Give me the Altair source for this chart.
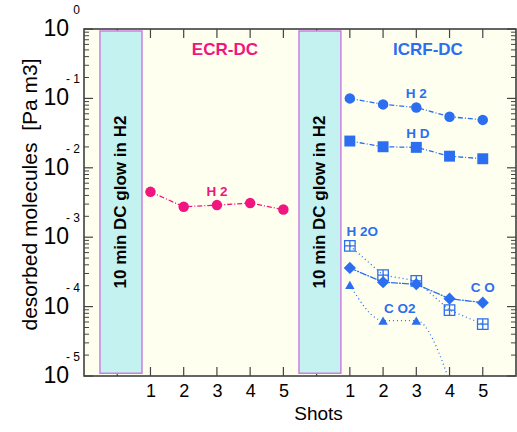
import altair as alt
import pandas as pd

# ---------------- data ----------------
shots = [1, 2, 3, 4, 5]
ecr_pos = [1, 2, 3, 4, 5]          # axis positions of ECR-DC shots
icrf_pos = [7, 8, 9, 10, 11]       # axis positions of ICRF-DC shots

ecr_h2 = [4.5e-3, 2.75e-3, 2.9e-3, 3.1e-3, 2.5e-3]
icrf_h2 = [0.100, 0.082, 0.074, 0.0545, 0.049]
icrf_hd = [0.0243, 0.0201, 0.0197, 0.0147, 0.0135]
icrf_h2o = [7.5e-4, 2.85e-4, 2.35e-4, 8.9e-5, 5.6e-5]
icrf_co = [3.6e-4, 2.25e-4, 2.1e-4, 1.3e-4, 1.14e-4]
icrf_co2 = [2.05e-4, 6.3e-5, 6.3e-5, 8.5e-6]   # 4th shot below axis range

glow_x0 = [-0.52, 5.47]
glow_x1 = [0.745, 6.73]
glow_top = [0.936, 0.936]
glow_bot = [1.1e-5, 1.1e-5]
glow_text = ["10 min DC glow in H2", "10 min DC glow in H2"]

label_text = ["H 2", "H 2", "H D", "H 2O", "C O", "C O2"]
label_x = [3.0, 9.0, 9.05, 7.37, 11.0, 8.5]
label_v = [4.5e-3, 0.116, 0.0307, 1.19e-3, 1.85e-4, 9.2e-5]
label_col = ["ecr", "icrf", "icrf", "icrf", "icrf", "icrf"]

panel_text = ["ECR-DC", "ICRF-DC"]
panel_x = [3.24, 9.35]
panel_v = [0.5, 0.5]
panel_col = ["ecr", "icrf"]

decades = [1, 1e-1, 1e-2, 1e-3, 1e-4, 1e-5]
exponents = ["0", "-  1", "-  2", "-  3", "-  4", "-  5"]
x_ticks = list(range(0, 12))

PINK = "#f0157f"
BLUE = "#2b6ff0"
FONT = "Liberation Sans"
colors = {"ecr": PINK, "icrf": BLUE}

rows = []
def add(name, xs, vs):
    for x, v in zip(xs, vs):
        rows.append({"series": name, "x": x, "v": v})
add("ECR_H2", ecr_pos, ecr_h2)
add("H2", icrf_pos, icrf_h2)
add("HD", icrf_pos, icrf_hd)
add("H2O", icrf_pos, icrf_h2o)
add("CO", icrf_pos, icrf_co)
add("CO2", icrf_pos[:4], icrf_co2)
df = pd.DataFrame(rows)

minor = [k * 10.0 ** d for d in range(-5, 0) for k in range(2, 10)]
df_major = pd.DataFrame({"v": decades, "e": exponents})
df_minor = pd.DataFrame({"v": minor})
df_xt = pd.DataFrame({"x": x_ticks})
df_glow = pd.DataFrame({"x0": glow_x0, "x1": glow_x1, "v0": glow_top, "v1": glow_bot, "t": glow_text})
df_glow["xm"] = (df_glow.x0 + df_glow.x1) / 2
df_glow["vm"] = (df_glow.v0 * df_glow.v1) ** 0.5
df_lab = pd.DataFrame({"t": label_text, "x": label_x, "v": label_v, "c": [colors[c] for c in label_col]})
df_pan = pd.DataFrame({"t": panel_text, "x": panel_x, "v": panel_v, "c": [colors[c] for c in panel_col]})

# ---------------- scales / axes ----------------
xscale = alt.Scale(domain=[-1, 12], nice=False, zero=False)
yscale = alt.Scale(type="log", domain=[1e-5, 1], nice=False)
xaxis = alt.Axis(values=[1, 2, 3, 4, 5, 7, 8, 9, 10, 11],
                 labelExpr="datum.value <= 5 ? datum.value : datum.value - 6",
                 ticks=False, domain=False, grid=False,
                 labelFontSize=18, labelFont=FONT, labelColor="black",
                 labelPadding=6, title="Shots", titleFont=FONT, titleFontSize=19,
                 titleFontWeight="normal", titleColor="black",
                 titleX=234, titleY=37, titleBaseline="middle", titleAlign="center")
yaxis = alt.Axis(labels=False, ticks=False, domain=False, grid=False,
                 title="desorbed molecules\u00a0\u00a0[Pa m3]", titleFont=FONT, titleFontSize=21,
                 titleFontWeight="normal", titleColor="black",
                 titleX=-54, titleY=165, titleBaseline="middle", titleAlign="center", titleAngle=-90)

def X(f="x"):
    return alt.X(f"{f}:Q", scale=xscale, axis=xaxis)
def Y(f="v"):
    return alt.Y(f"{f}:Q", scale=yscale, axis=yaxis)

TICK = "#444444"
layers = []
# ticks (inward)
layers.append(alt.Chart(df_xt).mark_rule(color=TICK, strokeWidth=1.2).encode(x=X(), y=alt.value(0), y2=alt.value(9)))
layers.append(alt.Chart(df_xt).mark_rule(color=TICK, strokeWidth=1.2).encode(x=X(), y=alt.value(347), y2=alt.value(338)))
layers.append(alt.Chart(df_major).mark_rule(color=TICK, strokeWidth=1.2).encode(y=Y(), x=alt.value(0), x2=alt.value(9)))
layers.append(alt.Chart(df_minor).mark_rule(color=TICK, strokeWidth=1).encode(y=Y(), x=alt.value(0), x2=alt.value(5)))
layers.append(alt.Chart(df_major).mark_rule(color=TICK, strokeWidth=1.2).encode(y=Y(), x=alt.value(432), x2=alt.value(423)))
layers.append(alt.Chart(df_minor).mark_rule(color=TICK, strokeWidth=1).encode(y=Y(), x=alt.value(432), x2=alt.value(427)))

# glow discharge bands
layers.append(alt.Chart(df_glow).mark_rect(fill="#c4f2f0", stroke="#cc80e0", strokeWidth=1.5).encode(
    x=X("x0"), x2="x1:Q", y=Y("v0"), y2="v1:Q"))
layers.append(alt.Chart(df_glow).mark_text(angle=270, fontSize=17, fontWeight="bold", font=FONT,
                                           color="black", align="center", baseline="middle").encode(
    x=X("xm"), y=Y("vm"), text="t:N"))

# series lines
def line(name, color, dash, interp="linear"):
    return alt.Chart(df).transform_filter(alt.datum.series == name).mark_line(
        color=color, strokeDash=dash, strokeWidth=1.3, interpolate=interp, clip=True).encode(x=X(), y=Y())

layers.append(line("ECR_H2", PINK, [5, 2, 1, 2]))
layers.append(line("H2", BLUE, [5, 2, 1, 2]))
layers.append(line("HD", BLUE, [5, 2, 1, 2]))
layers.append(line("H2O", BLUE, [1, 3]))
layers.append(line("CO", BLUE, [7, 1, 2, 1]))
layers.append(line("CO2", BLUE, [1, 3], "monotone"))

def pts(name, color, shape, size, filled=True):
    return alt.Chart(df).transform_filter(alt.datum.series == name).transform_filter(
        alt.datum.v >= 1e-5).mark_point(
        shape=shape, size=size, filled=filled, color=color, opacity=1,
        strokeWidth=1.3, clip=True).encode(x=X(), y=Y())

layers.append(pts("ECR_H2", PINK, "circle", 110))
layers.append(pts("H2", BLUE, "circle", 110))
layers.append(pts("HD", BLUE, "square", 120))
layers.append(pts("H2O", BLUE, "M-1,-1H1V1H-1Z M0,-1V1 M-1,0H1", 110, filled=False))
layers.append(pts("CO", BLUE, "diamond", 150))
layers.append(pts("CO2", BLUE, "triangle-up", 90))

# annotations
layers.append(alt.Chart(df_lab).mark_text(fontSize=13.5, fontWeight="bold", font=FONT,
                                          align="center", baseline="middle").encode(
    x=X(), y=Y(), text="t:N", color=alt.Color("c:N", scale=None)))
layers.append(alt.Chart(df_pan).mark_text(fontSize=17, fontWeight="bold", font=FONT,
                                          align="center", baseline="middle").encode(
    x=X(), y=Y(), text="t:N", color=alt.Color("c:N", scale=None)))

# y tick labels 10^n
layers.append(alt.Chart(df_major).mark_text(fontSize=23, font=FONT, align="right", baseline="middle",
                                            color="black").encode(
    y=Y(), x=alt.value(-15), text=alt.value("10")))
layers.append(alt.Chart(df_major).mark_text(fontSize=12, font=FONT, align="right", baseline="middle",
                                            color="black", dy=-19).encode(
    y=Y(), x=alt.value(-4), text="e:N"))

chart = alt.layer(*layers).properties(
    width=432, height=347,
    autosize=alt.AutoSizeParams(type="none"),
    padding={"left": 84, "top": 29, "right": 1, "bottom": 56},
    background="white",
).configure_view(fill="#fffff0", stroke="#333333", strokeWidth=1.5)

chart.save("out.html", embed_options={"renderer": "svg", "actions": False})
